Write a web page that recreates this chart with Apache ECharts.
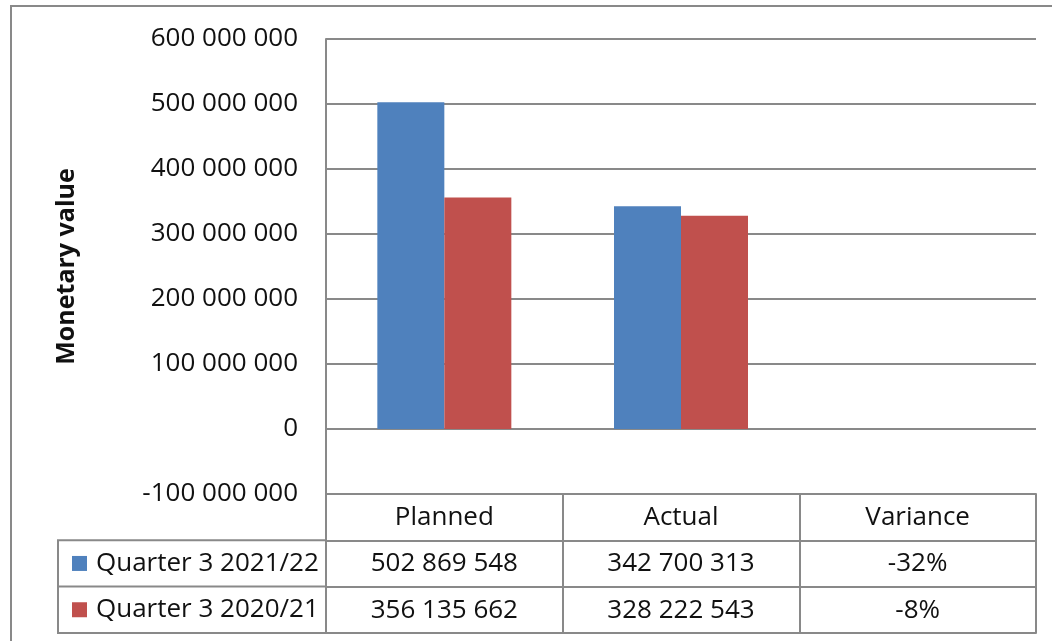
<!DOCTYPE html>
<html>
<head>
<meta charset="utf-8">
<title>Monetary value - Quarter 3</title>
<script src="https://cdn.jsdelivr.net/npm/echarts@6/dist/echarts.min.js"></script>
<style>
  html, body { margin: 0; padding: 0; background: #ffffff; }
  #chart { width: 1052px; height: 641px; }
</style>
</head>
<body>
<div id="chart"></div>
<script>
// ---- data ----
const categories = ['Planned', 'Actual', 'Variance'];
const seriesNames = ['Quarter 3 2021/22', 'Quarter 3 2020/21'];
const q3_2021_22 = [502869548, 342700313, -0.32];
const q3_2020_21 = [356135662, 328222543, -0.08];
const axisMin = -100000000;
const axisMax = 600000000;
const axisStep = 100000000;

// ---- styling / layout ----
const COLORS = ['#4F81BD', '#C0504D'];
const LINE = '#898989';
const TEXT = '#111111';
const FONT = '"Open Sans", "Liberation Sans", sans-serif';
const GRID = { left: 326, top: 39, width: 710, height: 455 };
const ROW = 46.3;          // height of one data-table row
const LEGEND_COL_LEFT = 58; // left edge of the series-name column

// "502869548" -> "502 869 548"
function groupDigits(v) {
  const sign = v < 0 ? '-' : '';
  return sign + String(Math.abs(Math.round(v))).replace(/\B(?=(\d{3})+(?!\d))/g, ' ');
}
// table cell text: variance row is a ratio shown as percent
function cellText(v, i) {
  return categories[i] === 'Variance' ? Math.round(v * 100) + '%' : groupDigits(v);
}

const labelStyle = { color: TEXT, fontFamily: FONT, fontSize: 26, lineHeight: 27 };
const lineStyle = { color: LINE, width: 2 };

// x axes stacked below the plot act as the rows of the data table
function tableAxis(rowIndex, rowData, withLabels) {
  return {
    type: 'category',
    gridIndex: 0,
    position: 'bottom',
    offset: ROW * rowIndex,
    data: rowData,
    axisLine: { show: true, onZero: false, lineStyle: lineStyle },
    axisTick: { show: false },
    axisLabel: Object.assign({ show: withLabels, margin: 10, interval: 0 }, labelStyle),
    splitLine: { show: false }
  };
}

const headerAxis = tableAxis(0, categories, true);
// category boundary ticks form the vertical cell borders of the table
headerAxis.axisTick = { show: true, interval: 0, length: ROW * 3, lineStyle: lineStyle };

const chart = echarts.init(document.getElementById('chart'), null, { renderer: 'canvas' });

chart.setOption({
  animation: false,
  backgroundColor: '#ffffff',
  grid: { left: GRID.left, top: GRID.top, width: GRID.width, height: GRID.height, containLabel: false },
  xAxis: [
    headerAxis,
    tableAxis(1, q3_2021_22.map(cellText), true),
    tableAxis(2, q3_2020_21.map(cellText), true),
    tableAxis(3, categories, false)
  ],
  yAxis: {
    type: 'value',
    min: axisMin,
    max: axisMax,
    interval: axisStep,
    name: 'Monetary value',
    nameLocation: 'middle',
    nameRotate: 90,
    nameGap: 247,
    nameTextStyle: { color: TEXT, fontFamily: FONT, fontSize: 25, fontWeight: 'bold' },
    axisLine: { show: true, lineStyle: lineStyle },
    axisTick: { show: false },
    axisLabel: Object.assign({ margin: 28, formatter: groupDigits }, labelStyle),
    splitLine: { show: true, lineStyle: lineStyle }
  },
  legend: {
    orient: 'vertical',
    left: 72,
    top: GRID.top + GRID.height + ROW + (ROW - 30) / 2,
    padding: 0,
    itemGap: ROW - 30,
    itemWidth: 15,
    itemHeight: 15,
    icon: 'rect',
    selectedMode: false,
    data: seriesNames,
    textStyle: { color: TEXT, fontFamily: FONT, fontSize: 26, lineHeight: 30, padding: [0, 0, 0, 4] }
  },
  series: [
    {
      name: seriesNames[0],
      type: 'bar',
      xAxisIndex: 0,
      data: q3_2021_22,
      barWidth: 67,
      barGap: '0%',
      itemStyle: { color: COLORS[0] }
    },
    {
      name: seriesNames[1],
      type: 'bar',
      xAxisIndex: 0,
      data: q3_2020_21,
      barWidth: 67,
      barGap: '0%',
      itemStyle: { color: COLORS[1] }
    }
  ],
  graphic: [
    // chart-area frame
    {
      type: 'rect', silent: true,
      shape: { x: 11, y: 6, width: 1100, height: 700 },
      style: { fill: 'none', stroke: LINE, lineWidth: 2 }
    },
    // series-name column of the data table
    {
      type: 'rect', silent: true,
      shape: {
        x: LEGEND_COL_LEFT,
        y: GRID.top + GRID.height + ROW,
        width: GRID.left - LEGEND_COL_LEFT,
        height: ROW * 2
      },
      style: { fill: 'none', stroke: LINE, lineWidth: 2 }
    },
    {
      type: 'line', silent: true,
      shape: {
        x1: LEGEND_COL_LEFT, y1: GRID.top + GRID.height + ROW * 2,
        x2: GRID.left, y2: GRID.top + GRID.height + ROW * 2
      },
      style: { stroke: LINE, lineWidth: 2 }
    }
  ]
});
</script>
</body>
</html>
